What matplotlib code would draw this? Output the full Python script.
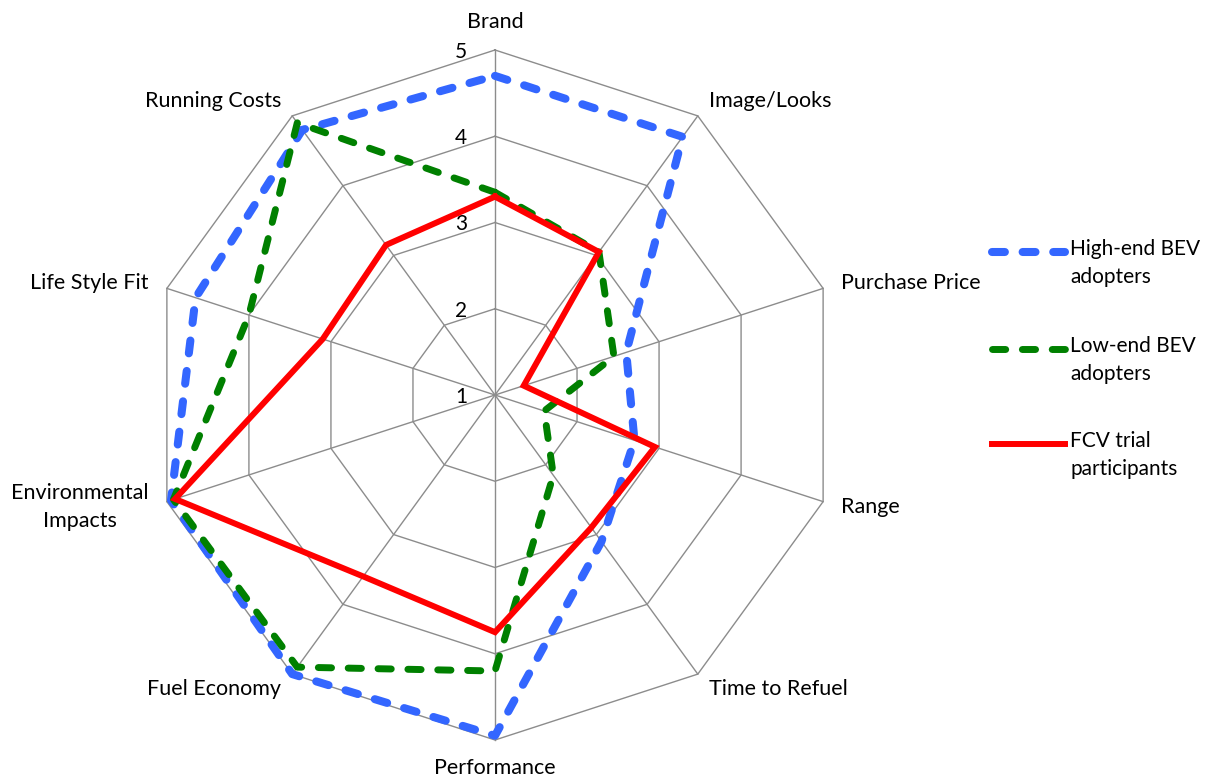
import numpy as np
import matplotlib
matplotlib.use("Agg")
import matplotlib.pyplot as plt
from matplotlib.lines import Line2D

plt.rcParams['font.family'] = ['Lato', 'DejaVu Sans']

# attribute ratings, clockwise from the top
categories = ['Brand', 'Image/Looks', 'Purchase Price', 'Range', 'Time to Refuel',
              'Performance', 'Fuel Economy', 'Environmental\nImpacts', 'Life Style Fit',
              'Running Costs']
high_end = [4.7, 4.7, 2.6, 2.7, 3.1, 4.95, 5.0, 4.95, 4.65, 4.8]
low_end = [3.35, 3.05, 2.45, 1.6, 2.15, 4.2, 4.9, 4.92, 4.0, 4.9]
fcv = [3.3, 3.05, 1.35, 2.95, 2.9, 3.75, 3.6, 4.9, 3.1, 3.15]
levels = [1, 2, 3, 4, 5]

series = [
    ('High-end BEV\nadopters', high_end, '#3366FF', 5.8, (1.6, 2.2)),
    ('Low-end BEV\nadopters', low_end, '#008000', 5.0, (1.9, 2.4)),
    ('FCV trial\nparticipants', fcv, '#FF0000', 4.3, None),
]

W, H = 1221, 784
fig = plt.figure(figsize=(W / 100, H / 100), dpi=100)
cx, cy, R = 495, 395, 345
ax = fig.add_axes([(cx - R) / W, (H - cy - R) / H, 2 * R / W, 2 * R / H], projection='polar')
ax.set_theta_offset(np.pi / 2)
ax.set_theta_direction(-1)
ax.set_ylim(1, 5)
ax.set_axis_off()

n = len(categories)
theta = np.linspace(0, 2 * np.pi, n, endpoint=False)
theta_c = np.append(theta, theta[0])

grid_kw = dict(color='#8c8c8c', lw=1.0, zorder=1, clip_on=False)
for lv in levels[1:]:
    ax.plot(theta_c, [lv] * (n + 1), **grid_kw)
for t in theta:
    ax.plot([t, t], [levels[0], levels[-1]], **grid_kw)

# scale numbers along the Brand spoke
for lv in levels:
    ax.annotate(str(lv), xy=(0, lv), xytext=(-34, -2), textcoords='offset pixels',
                ha='center', va='center', fontsize=15, clip_on=False)

# category labels around the outside
fs = 15.5
for t, name in zip(theta, categories):
    deg = np.degrees(t) % 360
    if deg < 1 or abs(deg - 180) < 1:
        ax.text(t, 5.33, name, ha='center', va='center', fontsize=fs)
    elif deg < 180:
        ax.text(t, 5.22, name, ha='left', va='center', fontsize=fs)
    else:
        ax.text(t, 5.22, name, ha='right', va='center', fontsize=fs,
                multialignment='center', linespacing=1.5)

for label, vals, col, lw, dash in series:
    v = np.append(vals, vals[0])
    line, = ax.plot(theta_c, v, color=col, lw=lw, zorder=3, clip_on=False,
                    solid_joinstyle='miter')
    if dash is not None:
        line.set_dashes(dash)
        line.set_dash_capstyle('round')

# legend on the right
leg_y = [252, 349, 444]
for (label, vals, col, lw, dash), y in zip(series, leg_y):
    ln = Line2D([992 / W, 1065 / W], [1 - y / H, 1 - y / H], color=col, lw=lw,
                transform=fig.transFigure)
    if dash is not None:
        ln.set_dashes(dash)
        ln.set_dash_capstyle('round')
    fig.add_artist(ln)
    fig.text(1070 / W, 1 - (y - 13) / H, label, ha='left', va='top', fontsize=15,
             linespacing=1.5)

fig.savefig('out.png', dpi=100, facecolor='white')
